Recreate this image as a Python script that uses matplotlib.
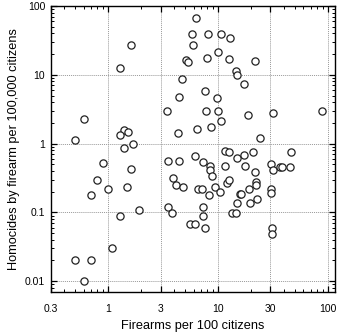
import matplotlib
matplotlib.use("Agg")
import matplotlib.pyplot as plt
from matplotlib.ticker import FixedLocator, LogLocator, NullFormatter, FixedFormatter

plt.rcParams['font.family'] = ['Liberation Sans', 'DejaVu Sans']

firearms = [1.60, 1.29, 0.60, 0.50, 1.41, 1.51, 1.29, 1.69, 1.39, 0.89, 1.60, 0.79, 0.99, 1.49,
            0.70, 1.90, 1.29, 1.09, 0.50, 0.70, 0.60,
            6.26, 5.80, 8.11, 10.7, 13.0, 5.91, 10.0, 7.94, 12.7, 5.15, 5.37, 14.5, 14.8, 4.67,
            7.67, 4.38, 9.88, 3.43, 7.84, 10.1, 10.6, 8.58, 6.49, 4.32,
            21.8, 17.2, 18.8, 32.0, 88.9, 24.0,
            3.50, 4.41, 6.17, 7.29, 8.52, 8.4, 8.89, 11.7, 12.6, 15.0, 11.6, 3.88, 4.17, 4.79,
            6.62, 7.2, 9.33, 8.28, 10.4, 12.1, 12.6, 15.8, 3.50, 3.78, 7.29, 7.29, 5.52, 6.22,
            7.61, 13.5, 15.0, 14.7,
            17.3, 21.0, 17.5, 21.9, 22.0, 22.3, 19.1, 16.3, 19.4, 22.5, 30.7, 31.5, 36.6, 38.4,
            45.4, 46.0, 30.7, 30.3, 31.3, 31.3]
homicides = [26.9, 12.6, 2.28, 1.12, 1.56, 1.47, 1.32, 0.98, 0.86, 0.53, 0.42, 0.30, 0.22, 0.237,
             0.177, 0.11, 0.09, 0.030, 0.020, 0.020, 0.010,
             68, 39.3, 39.3, 38.9, 34.8, 27.2, 21.5, 17.8, 16.8, 16.3, 15.2, 11.4, 9.85, 8.7,
             5.9, 4.7, 4.56, 2.95, 2.95, 2.98, 2.16, 1.74, 1.61, 1.43,
             16.1, 7.28, 2.6, 2.76, 2.95, 1.21,
             0.558, 0.553, 0.66, 0.547, 0.47, 0.41, 0.338, 0.78, 0.755, 0.62, 0.48, 0.32, 0.253, 0.237,
             0.219, 0.219, 0.237, 0.181, 0.20, 0.271, 0.292, 0.187, 0.12, 0.098, 0.118, 0.0885, 0.0686, 0.0686,
             0.059, 0.099, 0.139, 0.099,
             0.676, 0.755, 0.47, 0.386, 0.276, 0.253, 0.216, 0.185, 0.139, 0.158, 0.51, 0.41, 0.45, 0.45,
             0.45, 0.755, 0.22, 0.194, 0.06, 0.049]

x_ticks = [0.3, 1, 3, 10, 30, 100]
x_tick_labels = ["0.3", "1", "3", "10", "30", "100"]
y_ticks = [0.01, 0.1, 1, 10, 100]
y_tick_labels = ["0.01", "0.1", "1", "10", "100"]

fig = plt.figure(figsize=(3.4, 3.35), dpi=100)
ax = fig.add_axes([0.149, 0.129, 0.836, 0.853])
ax.set_xscale('log')
ax.set_yscale('log')
ax.set_xlim(0.3, 116)
ax.set_ylim(0.007, 100)

ax.grid(True, which='major', color='#999999', linestyle=(0, (1, 1)), linewidth=0.7)
ax.set_axisbelow(True)

ax.plot(firearms, homicides, linestyle='none', marker='o', markersize=5.2,
        markerfacecolor='white', markeredgecolor='#222222', markeredgewidth=0.9)

ax.xaxis.set_major_locator(FixedLocator(x_ticks))
ax.xaxis.set_major_formatter(FixedFormatter(x_tick_labels))
ax.yaxis.set_major_locator(FixedLocator(y_ticks))
ax.yaxis.set_major_formatter(FixedFormatter(y_tick_labels))
ax.xaxis.set_minor_locator(LogLocator(base=10, subs=range(2, 10)))
ax.yaxis.set_minor_locator(LogLocator(base=10, subs=range(2, 10)))
ax.xaxis.set_minor_formatter(NullFormatter())
ax.yaxis.set_minor_formatter(NullFormatter())

ax.tick_params(which='both', direction='in', top=True, right=True, colors='black', labelsize=7.5)
ax.tick_params(which='major', length=4.5, width=0.9)
ax.tick_params(which='minor', length=2.5, width=0.7)
ax.tick_params(axis='x', pad=8.5)
ax.tick_params(axis='y', pad=4)
for s in ax.spines.values():
    s.set_linewidth(1.0)
    s.set_color('black')

ax.set_xlabel("Firearms per 100 citizens", fontsize=9.2, labelpad=4.5)
ax.set_ylabel("Homocides by firearm per 100,000 citizens", fontsize=9.2, labelpad=3.5)

fig.savefig("out.png", dpi=100)
